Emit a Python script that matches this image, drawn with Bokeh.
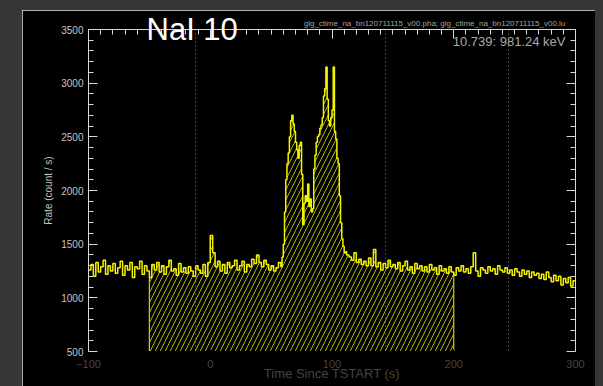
import numpy as np
from bokeh.plotting import figure
from bokeh.models import (Range1d, LinearAxis, SingleIntervalTicker, Span, Label,
                          Title, CustomJSTickFormatter)
from bokeh.layouts import column
from bokeh.embed import file_html
from bokeh.resources import INLINE

# ---------------- data ----------------
x_start, x_end = -100, 300
y_start, y_end = 500, 3500
x_ticks = [-100, 0, 100, 200, 300]
y_ticks = [500, 1000, 1500, 2000, 2500, 3000, 3500]

# bin start times (s): 2 s bins, 1 s bins across the burst
t_pre = np.arange(-100, 58, 2)
t_burst = np.arange(58, 112, 1)
t_post = np.arange(112, 300, 2)

rate_pre = [
    1260, 1310, 1200, 1330, 1240, 1290, 1350, 1220, 1300, 1250,
    1320, 1230, 1280, 1340, 1210, 1300, 1260, 1330, 1190, 1290,
    1270, 1340, 1220, 1300, 1250, 1190, 1310, 1260, 1330, 1240,
    1300, 1220, 1290, 1350, 1250, 1270, 1210, 1320, 1240, 1280,
    1230, 1290, 1250, 1200, 1300, 1260, 1230, 1310, 1200, 1330,
    1580, 1420, 1290, 1340, 1250, 1310, 1230, 1330, 1280, 1300,
    1350, 1260, 1300, 1340, 1240, 1310, 1290, 1360, 1320, 1400,
    1330, 1290, 1350, 1310, 1260, 1300, 1250, 1280, 1330,
]
rate_burst = [
    1290, 1380, 1500, 1800, 2100, 2250, 2350, 2500, 2650, 2700,
    2620, 2550, 2450, 2380, 2300, 2420, 2450, 2150, 1680, 1880,
    1950, 1900, 2060, 1850, 1920, 1800, 1830, 2200, 2330, 2450,
    2500, 2520, 2580, 2610, 2680, 2880, 2950, 3150, 2850, 2650,
    2600, 2680, 2750, 3150, 2550, 2480, 2300, 2250, 1950, 1700,
    1550, 1480, 1420, 1430,
]
rate_post = [
    1400, 1380, 1350, 1420, 1330, 1360, 1310, 1340, 1300, 1370,
    1300, 1450, 1290, 1330, 1260, 1320, 1280, 1350, 1290, 1310,
    1270, 1330, 1250, 1300, 1340, 1260, 1290, 1230, 1320, 1270,
    1300, 1250, 1290, 1240, 1310, 1260, 1280, 1220, 1300, 1250,
    1270, 1230, 1290, 1240, 1210, 1280, 1250, 1300, 1240, 1270,
    1230, 1290, 1420, 1250, 1200, 1280, 1260, 1230, 1290, 1250,
    1270, 1220, 1300, 1260, 1240, 1280, 1230, 1260, 1210, 1270,
    1240, 1200, 1260, 1220, 1250, 1190, 1240, 1210, 1230, 1180,
    1220, 1170, 1240, 1190, 1150, 1210, 1160, 1200, 1120, 1180,
    1140, 1190, 1110, 1160,
]
source_interval = [-50, 200]
background_marks = [-12, 144, 245]

title_text = "NaI 10"
energy_text = "10.739: 981.24 keV"
file_text = "glg_ctime_na_bn120711115_v00.pha;  glg_ctime_na_bn120711115_v00.lu"
x_label = "Time Since TSTART (s)"
y_label = "Rate (count / s)"

# ---------------- build ----------------
t = np.concatenate([t_pre, t_burst, t_post]).astype(float)
rate = np.array(rate_pre + rate_burst + rate_post, dtype=float)
x_step = np.concatenate([t, [x_end]])
y_step = np.concatenate([rate, [rate[-1]]])

mask = (t >= source_interval[0]) & (t < source_interval[1])
xs_src = np.concatenate([t[mask], [source_interval[1]]])
ys_src = np.concatenate([rate[mask], [rate[mask][-1]]])

FONT = "Liberation Sans"
AXC = "#d8d8d8"
TXC = "#c4c4c4"

p = figure(width=573, height=376,
           x_range=Range1d(x_start, x_end), y_range=Range1d(y_start, y_end),
           output_backend="svg", toolbar_location=None,
           background_fill_color="black", border_fill_color="black",
           min_border_left=66, min_border_right=20,
           min_border_top=19, min_border_bottom=35)
p.margin = (10, 8, 0, 22)
p.styles = {"outline": "2px solid #e6e6e6", "outline-offset": "-2px"}
p.grid.visible = False
p.outline_line_color = AXC

p.xaxis.ticker = SingleIntervalTicker(interval=100, num_minor_ticks=10)
p.yaxis.ticker = SingleIntervalTicker(interval=500, num_minor_ticks=5)
p.xaxis.axis_label = x_label
p.yaxis.axis_label = y_label

blank = CustomJSTickFormatter(code="return ''")
top_axis = LinearAxis(ticker=SingleIntervalTicker(interval=100, num_minor_ticks=10),
                      formatter=blank)
right_axis = LinearAxis(ticker=SingleIntervalTicker(interval=500, num_minor_ticks=5),
                        formatter=blank)
p.add_layout(top_axis, "above")
p.add_layout(right_axis, "right")

for ax in [p.xaxis[0], p.yaxis[0], top_axis, right_axis]:
    ax.axis_line_color = AXC
    ax.major_tick_line_color = AXC
    ax.minor_tick_line_color = AXC
    ax.major_tick_in = 9
    ax.major_tick_out = 0
    ax.minor_tick_in = 5
    ax.minor_tick_out = 0
    ax.major_label_text_color = TXC
    ax.major_label_text_font = FONT
    ax.major_label_text_font_size = "10px"
    ax.axis_label_text_color = TXC
    ax.axis_label_text_font = FONT
    ax.axis_label_text_font_size = "10px"
for ax in [top_axis, right_axis]:
    ax.major_label_standoff = 0

p.xaxis.axis_label_text_font_style = "normal"
p.yaxis.axis_label_text_font_style = "normal"
p.xaxis.major_label_standoff = 2
p.xaxis.axis_label_standoff = -5
p.yaxis.major_label_standoff = 5
p.yaxis.axis_label_standoff = 4

for loc in background_marks:
    p.add_layout(Span(location=loc, dimension="height", line_color="#8a8a8a",
                      line_dash="1 3", line_width=1))

# hatched source interval
p.varea_step(x=xs_src, y1=y_start, y2=ys_src, step_mode="after",
             fill_color=None, hatch_pattern="/", hatch_color="#b4b400",
             hatch_scale=10, hatch_weight=1)
p.segment(x0=[source_interval[0], source_interval[1]], y0=[y_start, y_start],
          x1=[source_interval[0], source_interval[1]], y1=[ys_src[0], ys_src[-1]],
          line_color="#d0d000", line_width=1.2)

# light curve
p.step(x_step, y_step, mode="after", line_color="#f4f400", line_width=1.5)

# big detector title: zero-height slot next to the frame, drawn across its top edge
p.add_layout(Title(text=title_text, align="left", offset=58, standoff=-36,
                   vertical_align="middle", text_color="white", text_font=FONT,
                   text_font_size="31px", text_font_style="normal"), "above")
p.add_layout(Title(text=file_text, align="right", offset=8, standoff=2,
                   text_color="#a0a0a0", text_font=FONT, text_font_size="8px",
                   text_font_style="normal"), "above")
p.add_layout(Label(x=291.8, y=3387, text=energy_text, text_color="#a8a8a8",
                   text_font=FONT, text_font_size="13px", text_align="right",
                   text_baseline="alphabetic"))

layout = column(p, width=603, height=386, styles={"background-color": "#363636"})

open("out.html", "w").write(file_html(layout, INLINE))
